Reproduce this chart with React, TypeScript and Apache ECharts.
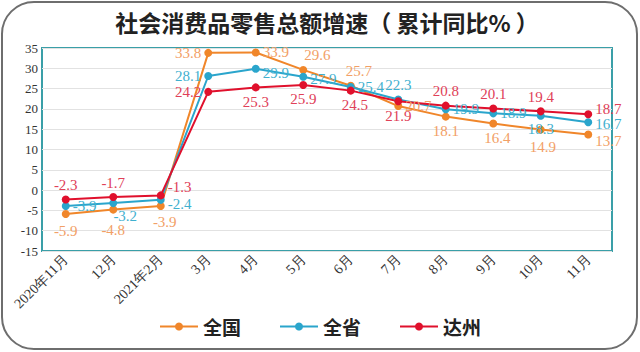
import React, { useEffect, useRef } from "react";
import * as echarts from "echarts";

const categories = ["2020年11月", "12月", "2021年2月", "3月", "4月", "5月", "6月", "7月", "8月", "9月", "10月", "11月"];
const nationValues = [-5.9, -4.8, -3.9, 33.8, 33.9, 29.6, 25.7, 20.7, 18.1, 16.4, 14.9, 13.7];
const provinceValues = [-3.9, -3.2, -2.4, 28.1, 29.9, 27.9, 25.4, 22.3, 19.9, 18.9, 18.3, 16.7];
const dazhouValues = [-2.3, -1.7, -1.3, 24.2, 25.3, 25.9, 24.5, 21.9, 20.8, 20.1, 19.4, 18.7];
const yTicks = { min: -15, max: 35, interval: 5 };

const nationLabelPos = ["bottom", "bottom", "bottom", "left", "right", "top", "top", "right", "bottom", "bottom", "bottom", "right"];
const nationLabelOffset = [[0, 2], [0, 6], [4, 2], [0, 0], [0, 0], [14, 0], [8, 0], [0, 0], [0, 0], [4, 0], [2, 3], [0, 7]];
const provinceLabelPos = ["right", "bottom", "right", "left", "right", "right", "right", "top", "right", "right", "bottom", "right"];
const provinceLabelOffset = [[0, 0], [12, -2], [0, 4], [0, 0], [0, 4], [0, 2], [0, 0], [0, 0], [0, 0], [0, 0], [0, -1], [0, 2]];
const dazhouLabelPos = ["top", "top", "right", "left", "bottom", "bottom", "bottom", "bottom", "top", "top", "top", "right"];
const dazhouLabelOffset = [[0, 0], [0, 0], [0, -8], [0, 0], [0, 0], [0, 0], [4, 0], [0, 0], [0, 0], [0, 0], [0, 0], [0, -5]];

const serif = "'Liberation Serif', 'DejaVu Serif', serif";
const cjk = "'Noto Sans CJK SC', sans-serif";

function buildData(values: number[], positions: string[], offsets: number[][]) {
  return values.map((v, i) => ({
    value: v,
    label: { position: positions[i], offset: offsets[i] },
  }));
}

export default function App() {
  const ref = useRef<HTMLDivElement>(null);
  useEffect(() => {
    if (!ref.current) return;
    const chart = echarts.init(ref.current, null, { renderer: "svg" });
    const mk = (name: string, color: string, labelColor: string, values: number[], pos: string[], off: number[][]) => ({
      name,
      type: "line",
      data: buildData(values, pos, off),
      symbol: "circle",
      symbolSize: 8,
      lineStyle: { color, width: 2 },
      itemStyle: { color },
      label: {
        show: true,
        color: labelColor,
        fontFamily: serif,
        fontSize: 15,
        distance: 3,
      },
    });
    chart.setOption({
      animation: false,
      backgroundColor: "#ffffff",
      graphic: [
        {
          type: "rect",
          shape: { x: 2, y: 2, width: 635, height: 347, r: 32 },
          style: { fill: "none", stroke: "#6e6e6e", lineWidth: 2 },
          z: -1,
        },
        {
          type: "text",
          x: 327,
          y: 22,
          style: {
            text: "社会消费品零售总额增速（ 累计同比% ）",
            font: `bold 23px ${cjk}`,
            fill: "#222222",
            align: "center",
            verticalAlign: "middle",
          },
        },
      ],
      legend: {
        top: 312,
        left: "center",
        itemWidth: 38,
        itemHeight: 10,
        itemGap: 38,
        textStyle: { fontFamily: cjk, fontSize: 19, fontWeight: "bold", color: "#222" },
        data: ["全国", "全省", "达州"],
      },
      grid: {
        left: 42,
        right: 28,
        top: 48,
        bottom: 101,
        show: true,
        borderColor: "#3a9fa8",
        borderWidth: 2,
        containLabel: false,
      },
      xAxis: {
        type: "category",
        data: categories,
        boundaryGap: true,
        axisLine: { show: false },
        axisTick: { show: false },
        axisLabel: {
          rotate: 45,
          interval: 0,
          fontFamily: serif,
          fontSize: 14,
          color: "#333",
          margin: 6,
        },
      },
      yAxis: {
        type: "value",
        min: yTicks.min,
        max: yTicks.max,
        interval: yTicks.interval,
        axisLine: { show: false },
        axisTick: { show: false },
        splitLine: { lineStyle: { color: "#e2e2e2" } },
        axisLabel: { fontFamily: serif, fontSize: 13, color: "#333", margin: 4 },
      },
      series: [
        mk("全国", "#f0862a", "#f2a066", nationValues, nationLabelPos, nationLabelOffset),
        mk("全省", "#2aa5cc", "#3fb0cf", provinceValues, provinceLabelPos, provinceLabelOffset),
        mk("达州", "#e0102c", "#e04058", dazhouValues, dazhouLabelPos, dazhouLabelOffset),
      ],
    });
    return () => chart.dispose();
  }, []);
  return <div ref={ref} style={{ width: 640, height: 352, position: "absolute", left: 0, top: 0 }} />;
}
